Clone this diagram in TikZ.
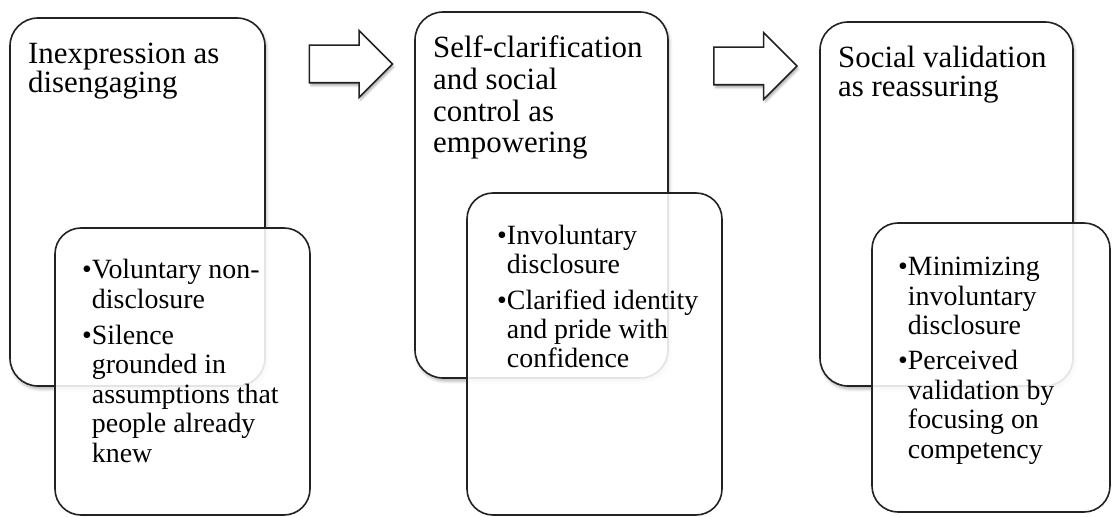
\documentclass[tikz,border=0pt]{standalone}
\usepackage{fontspec}
\setmainfont{Liberation Serif}
\usetikzlibrary{shapes.arrows,shadows.blur}
\definecolor{edge}{HTML}{222222}
\newcommand{\bul}{\textbullet}
\newcommand{\ind}{\hphantom{\textbullet}}

\tikzset{
  stage/.style={draw=edge, line width=1.6bp, rounded corners=28bp, fill=white, inner sep=0pt,
    blur shadow={shadow xshift=1.5bp, shadow yshift=-3bp, shadow blur radius=3bp, shadow opacity=30}},
  detail/.style={draw=edge, line width=1.6bp, rounded corners=26bp, fill=white, fill opacity=0.88, inner sep=0pt},
  heading/.style={anchor=base west, align=left, inner sep=0pt, font=\fontsize{31}{#1}\selectfont},
  points/.style={anchor=base west, align=left, inner sep=0pt, font=\fontsize{28}{29.5}\selectfont},
  flowarrow/.style={single arrow, draw=edge, line width=1.6bp, fill=white, inner xsep=0pt, inner ysep=18bp,
    minimum height=83bp, minimum width=65bp, single arrow head extend=14.5bp, single arrow tip angle=90,
    blur shadow={shadow xshift=1.5bp, shadow yshift=-3bp, shadow blur radius=2bp, shadow opacity=30}}
}

\begin{document}
\begin{tikzpicture}[x=1bp, y=-1bp]
  \useasboundingbox (0,0) rectangle (1112,517);

  % main stages
  \node[stage, minimum width=255bp, minimum height=368bp] (stage1) at (137.5,202) {};
  \node[stage, minimum width=253bp, minimum height=366bp] (stage2) at (541.5,195) {};
  \node[stage, minimum width=253bp, minimum height=364bp] (stage3) at (946.5,204) {};

  % arrows between stages
  \node[flowarrow] (arrow1) at (341.5,64) {};
  \node[flowarrow] (arrow2) at (746,66) {};

  % detail cards
  \node[detail, minimum width=255bp, minimum height=287bp] (card1) at (182.5,371.5) {};
  \node[detail, minimum width=255bp, minimum height=322bp] (card2) at (594.5,354) {};
  \node[detail, minimum width=238bp, minimum height=289bp] (card3) at (991,367.5) {};

  % stage titles (placed at last baseline)
  \node[heading=28] (title1) at (28,93) {Inexpression as\\disengaging};
  \node[heading=32] (title2) at (433,153) {Self-clarification\\and social\\control as\\empowering};
  \node[heading=30] (title3) at (838,97) {Social validation\\as reassuring};

  % bullet points
  \node[points] (list1) at (82,462) {\bul Voluntary non-\\\ind disclosure\\[7bp]
    \bul Silence\\\ind grounded in\\\ind assumptions that\\\ind people already\\\ind knew};
  \node[points] (list2) at (497,368) {\bul Involuntary\\\ind disclosure\\[6bp]
    \bul Clarified identity\\\ind and pride with\\\ind confidence};
  \node[points] (list3) at (898,458) {\bul Minimizing\\\ind involuntary\\\ind disclosure\\[6bp]
    \bul Perceived\\\ind validation by\\\ind focusing on\\\ind competency};
\end{tikzpicture}
\end{document}
